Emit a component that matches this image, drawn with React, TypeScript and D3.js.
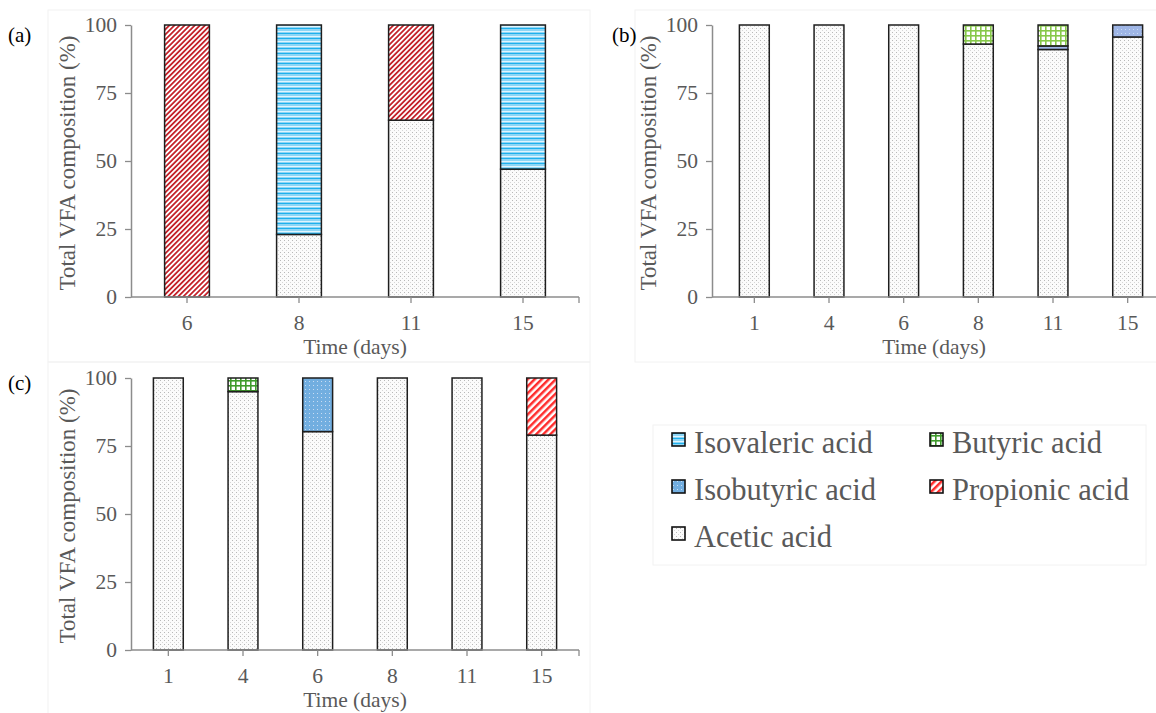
import React, { useRef, useEffect } from "react";
import * as d3 from "d3";

// stack order bottom -> top
const acidNames = ["Acetic acid", "Propionic acid", "Isobutyric acid", "Butyric acid", "Isovaleric acid"];

// panel (a)
const daysA = ["6", "8", "11", "15"];
const aceticA = [0, 23, 65, 47];
const propionicA = [100, 0, 35, 0];
const isobutyricA = [0, 0, 0, 0];
const butyricA = [0, 0, 0, 0];
const isovalericA = [0, 77, 0, 53];

// panel (b)
const daysB = ["1", "4", "6", "8", "11", "15"];
const aceticB = [100, 100, 100, 93, 91, 95.6];
const propionicB = [0, 0, 0, 0, 0, 0];
const isobutyricB = [0, 0, 0, 0, 1.3, 4.4];
const butyricB = [0, 0, 0, 7, 7.7, 0];
const isovalericB = [0, 0, 0, 0, 0, 0];

// panel (c)
const daysC = ["1", "4", "6", "8", "11", "15"];
const aceticC = [100, 95, 80.3, 100, 100, 79];
const propionicC = [0, 0, 0, 0, 0, 21];
const isobutyricC = [0, 0, 19.7, 0, 0, 0];
const butyricC = [0, 5, 0, 0, 0, 0];
const isovalericC = [0, 0, 0, 0, 0, 0];

const yTicks = [0, 25, 50, 75, 100];

// legend layout: rows read left-to-right like Excel
const legendItems = ["Isovaleric acid", "Butyric acid", "Isobutyric acid", "Propionic acid", "Acetic acid"];

const FONT = "'Liberation Serif', 'Times New Roman', serif";
const GREY = "#595959";
const AXIS = "#8c8c8c";

const panels = [
  {
    label: "(a)", days: daysA,
    series: [aceticA, propionicA, isobutyricA, butyricA, isovalericA],
    x0: 131, x1: 579, top: 25, bottom: 297, labelX: 8, labelY: 42,
    fills: ["pat-acetic", "pat-prop-dark", "pat-isobut-b", "pat-but-light", "pat-isoval"],
  },
  {
    label: "(b)", days: daysB,
    series: [aceticB, propionicB, isobutyricB, butyricB, isovalericB],
    x0: 717, x1: 1165, axisX: 712, top: 25, bottom: 297, labelX: 612, labelY: 42,
    fills: ["pat-acetic", "pat-prop", "pat-isobut-b", "pat-but-light", "pat-isoval"],
  },
  {
    label: "(c)", days: daysC,
    series: [aceticC, propionicC, isobutyricC, butyricC, isovalericC],
    x0: 131, x1: 579, top: 378, bottom: 650, labelX: 8, labelY: 390,
    fills: ["pat-acetic", "pat-prop", "pat-isobut", "pat-but", "pat-isoval"],
  },
];

const legendFills = {
  "Isovaleric acid": "pat-isoval",
  "Butyric acid": "pat-but",
  "Isobutyric acid": "pat-isobut",
  "Propionic acid": "pat-prop",
  "Acetic acid": "pat-acetic",
};

function addPatterns(defs) {
  const pat = (id, w, h, extra) =>
    defs.append("pattern").attr("id", id).attr("width", w).attr("height", h)
      .attr("patternUnits", "userSpaceOnUse").attr("patternTransform", extra || null);

  // acetic: sparse grey dots
  const dots = pat("pat-acetic", 4, 4);
  dots.append("rect").attr("width", 4).attr("height", 4).attr("fill", "#fbfbfb");
  dots.append("rect").attr("width", 1).attr("height", 1).attr("fill", "#b8b8b8");
  dots.append("rect").attr("x", 2).attr("y", 2).attr("width", 1).attr("height", 1).attr("fill", "#d6d6d6");

  // propionic: upward diagonal stripes
  const diag = (id, color, size) => {
    const p = pat(id, size, size, "rotate(45)");
    p.append("rect").attr("width", size).attr("height", size).attr("fill", "#fff");
    p.append("rect").attr("width", size / 2).attr("height", size).attr("fill", color);
  };
  diag("pat-prop-dark", "#c4232b", 3.6);
  diag("pat-prop", "#ff2b2b", 5);

  // isovaleric: horizontal stripes
  const hz = pat("pat-isoval", 4, 5);
  hz.append("rect").attr("width", 4).attr("height", 5).attr("fill", "#8ed6f6");
  hz.append("rect").attr("y", 1).attr("width", 4).attr("height", 1).attr("fill", "#e2f5fd");
  hz.append("rect").attr("y", 3).attr("width", 4).attr("height", 1).attr("fill", "#1fb0ec");

  // butyric: green grid
  const grid = (id, color) => {
    const p = pat(id, 5, 5);
    p.append("rect").attr("width", 5).attr("height", 5).attr("fill", "#fff");
    p.append("rect").attr("width", 5).attr("height", 1.6).attr("fill", color);
    p.append("rect").attr("width", 1.6).attr("height", 5).attr("fill", color);
  };
  grid("pat-but", "#3f9b2c");
  grid("pat-but-light", "#86c84a");

  // isobutyric: blue with light dots
  const blue = (id, color) => {
    const p = pat(id, 4, 4);
    p.append("rect").attr("width", 4).attr("height", 4).attr("fill", color);
    p.append("rect").attr("x", 1).attr("y", 1).attr("width", 1).attr("height", 1).attr("fill", "#c9ddf3");
  };
  blue("pat-isobut", "#72aee0");
  blue("pat-isobut-b", "#9fb6e6");
}

function drawPanel(svg, cfg) {
  const g = svg.append("g");
  const axisX = cfg.axisX ?? cfg.x0;

  const x = d3.scaleBand().domain(cfg.days).range([cfg.x0, cfg.x1]).paddingInner(0.6).paddingOuter(0.3);
  const y = d3.scaleLinear().domain([0, 100]).range([cfg.bottom, cfg.top]);

  const rows = cfg.days.map((day, i) => {
    const row = { day };
    acidNames.forEach((name, k) => (row[name] = cfg.series[k][i]));
    return row;
  });
  const stacked = d3.stack().keys(acidNames)(rows);

  // bars
  stacked.forEach((layer, k) => {
    g.append("g")
      .selectAll("rect")
      .data(layer.filter((d) => d[1] - d[0] > 0))
      .join("rect")
      .attr("x", (d) => x(d.data.day))
      .attr("width", x.bandwidth())
      .attr("y", (d) => y(d[1]))
      .attr("height", (d) => y(d[0]) - y(d[1]))
      .attr("fill", `url(#${cfg.fills[k]})`)
      .attr("stroke", "#1e1e1e")
      .attr("stroke-width", 1.5);
  });

  // y axis
  const yAxis = g.append("g")
    .attr("transform", `translate(${axisX},0)`)
    .call(d3.axisLeft(y).tickValues(yTicks).tickSize(6).tickSizeOuter(0).tickPadding(8));
  yAxis.select(".domain").attr("stroke", AXIS).attr("stroke-width", 1.5);
  yAxis.selectAll("line").attr("stroke", AXIS).attr("stroke-width", 1.3);
  yAxis.selectAll("text").attr("fill", GREY).attr("font-size", 21.5).attr("font-family", FONT);

  // x axis
  const xAxis = g.append("g")
    .attr("transform", `translate(0,${cfg.bottom})`)
    .call(d3.axisBottom(x).tickSize(6).tickSizeOuter(0).tickPadding(12));
  xAxis.select(".domain").attr("d", `M${axisX},0H${cfg.x1}`)
    .attr("stroke", AXIS).attr("stroke-width", 1.5);
  xAxis.selectAll("line").attr("stroke", AXIS).attr("stroke-width", 1.3);
  xAxis.selectAll("text").attr("fill", GREY).attr("font-size", 21.5).attr("font-family", FONT);
  xAxis.append("line").attr("x1", cfg.x1).attr("x2", cfg.x1).attr("y1", 0).attr("y2", 6)
    .attr("stroke", AXIS).attr("stroke-width", 1.3);

  // axis titles
  g.append("text")
    .attr("transform", `translate(${axisX - 56},${(cfg.top + cfg.bottom) / 2 + 2}) rotate(-90)`)
    .attr("text-anchor", "middle")
    .attr("fill", GREY).attr("font-size", 23).attr("font-family", FONT)
    .text("Total VFA composition (%)");
  g.append("text")
    .attr("x", (axisX + Math.min(cfg.x1, 1156)) / 2)
    .attr("y", cfg.bottom + 57)
    .attr("text-anchor", "middle")
    .attr("fill", GREY).attr("font-size", 21.5).attr("font-family", FONT)
    .text("Time (days)");

  // panel letter
  g.append("text")
    .attr("x", cfg.labelX).attr("y", cfg.labelY)
    .attr("fill", "#000").attr("font-size", 21).attr("font-family", FONT)
    .text(cfg.label);
}

function drawLegend(svg) {
  const g = svg.append("g");
  const colX = [672, 930];
  const rowY = [453, 500, 547];
  legendItems.forEach((name, i) => {
    const cx = colX[i % 2];
    const cy = rowY[Math.floor(i / 2)];
    g.append("rect")
      .attr("x", cx).attr("y", cy - 20).attr("width", 13).attr("height", 13)
      .attr("fill", `url(#${legendFills[name]})`)
      .attr("stroke", "#111").attr("stroke-width", 1.6);
    g.append("text")
      .attr("x", cx + 22).attr("y", cy)
      .attr("fill", GREY).attr("font-size", 30.5).attr("font-family", FONT)
      .text(name);
  });
}

function App() {
  const svgRef = useRef(null);

  useEffect(() => {
    document.body.style.margin = "0";
    const svg = d3.select(svgRef.current);
    svg.selectAll("*").remove();

    addPatterns(svg.append("defs"));

    // faint chart-area frames
    const frames = [
      [48, 10, 542, 352],
      [635, 10, 530, 352],
      [48, 362, 542, 360],
      [653, 425, 493, 140],
    ];
    svg.append("g").selectAll("rect").data(frames).join("rect")
      .attr("x", (d) => d[0]).attr("y", (d) => d[1])
      .attr("width", (d) => d[2]).attr("height", (d) => d[3])
      .attr("fill", "none").attr("stroke", "#f2f2f2");

    panels.forEach((p) => drawPanel(svg, p));
    drawLegend(svg);
  }, []);

  return <svg ref={svgRef} width={1156} height={713} style={{ display: "block", background: "#fff" }} />;
}

export default App;
